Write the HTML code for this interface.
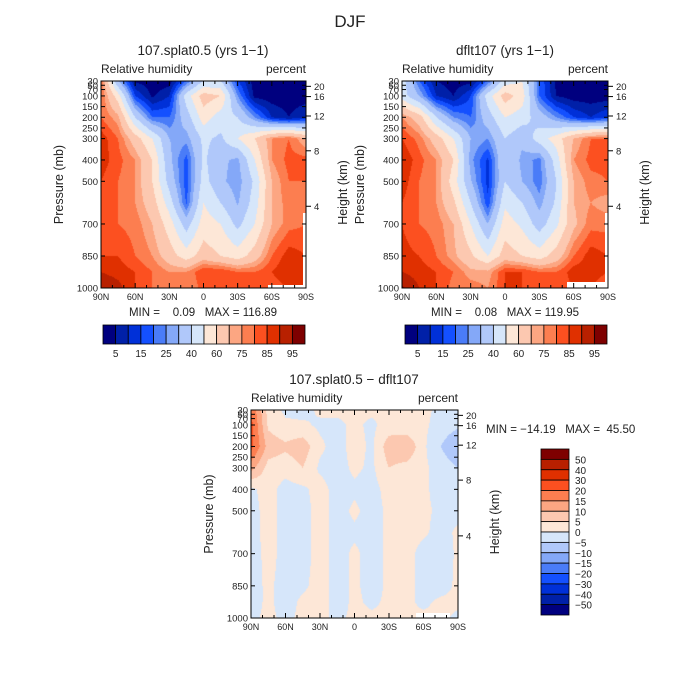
<!DOCTYPE html>
<html><head><meta charset="utf-8"><style>
body{margin:0;background:#fff;}
#wrap{position:relative;width:700px;height:700px;overflow:hidden;font-family:"Liberation Sans",sans-serif;}
canvas{position:absolute;}
svg{position:absolute;left:0;top:0;}
text{font-family:"Liberation Sans",sans-serif;fill:#222;white-space:pre;}
</style></head><body>
<div id="wrap">
<canvas id="c1" width="205" height="207" style="left:101px;top:81px"></canvas>
<canvas id="c2" width="206" height="207" style="left:402px;top:81px"></canvas>
<canvas id="c3" width="207" height="208" style="left:251px;top:410px"></canvas>
<svg id="ov" width="700" height="700"></svg>
</div>
<script>
const lats=[90,75,60,45,30,15,0,-15,-30,-45,-60,-75,-90];
const plevs=[30,100,200,300,400,500,600,700,850,925,1000];
const rh1=[
[80,30,4,2,2,20,40,40,15,2,2,2,2],
[80,55,15,4,10,45,65,60,25,3,2,2,2],
[80,72,40,20,20,35,55,45,40,25,10,5,10],
[88,80,65,50,30,27,42,38,50,60,75,80,70],
[88,82,75,60,32,18,42,32,28,50,75,82,82],
[85,80,75,60,36,17,44,32,26,42,70,80,80],
[85,80,75,65,45,19,50,40,29,45,70,78,78],
[85,80,78,70,55,35,55,50,37,50,70,78,80],
[85,85,80,75,65,55,65,60,55,65,80,88,85],
[90,88,85,80,75,75,85,85,80,80,85,90,85],
[95,92,85,80,80,75,82,85,85,80,82,85,85]];
const rh2=[
[45,20,5,2,3,20,45,50,20,3,2,2,2],
[45,30,10,5,15,45,65,55,20,5,2,2,2],
[75,65,40,25,20,35,50,45,35,25,15,10,15],
[85,78,65,50,30,25,40,32,45,55,70,80,80],
[90,82,75,60,27,14,40,28,23,45,75,82,82],
[88,80,75,55,31,13,40,30,22,40,70,78,80],
[85,80,75,62,40,16,48,40,27,42,70,75,72],
[85,80,78,70,50,30,55,48,35,48,68,78,78],
[87,85,80,72,62,50,65,60,55,65,80,88,85],
[90,88,85,80,72,72,85,85,80,80,88,88,85],
[96,90,85,78,78,75,85,85,85,82,85,85,80]];
const diff=[
[20,3,-1,-2,1,1,1,1,1,1,1,-1,-2],
[22,4,1,1,-1,-1,1,-1,2,1,1,-2,-4],
[22,8,6,8,1,-2,2,-1,8,10,1,-5,-10],
[12,3,2,5,-1,-2,1,-1,5,3,1,-2,-5],
[-1,2,-2,-1,2,-2,-1,-2,2,2,1,-2,-3],
[-2,2,-2,-2,2,-2,1,-2,1,2,1,-1,-2],
[-2,2,-2,-2,2,-2,-1,-2,1,2,1,-2,1],
[-3,2,-2,-2,2,-2,1,-2,1,2,-2,-3,1],
[-2,1,-2,-1,2,-2,1,-2,1,2,-2,-2,1],
[-2,1,-2,1,2,-2,1,-1,1,1,-1,1,1],
[-1,1,-1,1,1,-1,1,1,1,1,1,1,-1]];
const rhLevels=[5,10,15,20,25,30,40,50,60,70,75,80,85,90,95];
const rhLabels=["5","15","25","40","60","75","85","95"];
const diffLevels=[-50,-40,-30,-20,-15,-10,-5,0,5,10,15,20,30,40,50];
const colors=["#00007f","#0020a8","#0030d8","#1450ff","#4a7cf8","#84a8f8","#b0c8fa","#d6e6fa","#fde7d7","#fcc8b0","#fca682","#fc7e50","#fc5020","#e03000","#b82000","#7e0000"];
const pTicks=[30,50,70,100,150,200,250,300,400,500,700,850,1000];
const hTicks=[20,16,12,8,4];
const hTickP=[55,103,194,357,617];
const latTicks=["90N","60N","30N","0","30S","60S","90S"];

const NS="http://www.w3.org/2000/svg";
const ov=document.getElementById('ov');
function el(tag,attrs,txt){const e=document.createElementNS(NS,tag);for(const k in attrs)e.setAttribute(k,attrs[k]);if(txt!==undefined)e.textContent=txt;ov.appendChild(e);return e;}
function colIdx(v,lv){let i=0;while(i<lv.length&&v>=lv[i])i++;return i;}
function interp(grid,lat,p){
  let fx=(90-lat)/15;let i=Math.min(Math.floor(fx),lats.length-2);let tx=fx-i;
  let j=0;while(j<plevs.length-2&&p>plevs[j+1])j++;
  let ty=(p-plevs[j])/(plevs[j+1]-plevs[j]);ty=Math.max(0,Math.min(1,ty));
  const a=grid[j][i],b=grid[j][i+1],c=grid[j+1][i],d=grid[j+1][i+1];
  return (a*(1-tx)+b*tx)*(1-ty)+(c*(1-tx)+d*tx)*ty;
}
function drawField(id,grid,lv){
  const cv=document.getElementById(id),ctx=cv.getContext('2d');
  const W=cv.width,H=cv.height;
  for(let y=0;y<H;y++){const p=30+970*(y+0.5)/H;
    for(let x=0;x<W;x++){const lat=90-180*(x+0.5)/W;
      ctx.fillStyle=colors[colIdx(interp(grid,lat,p),lv)];ctx.fillRect(x,y,1,1);}}
}
drawField('c1',rh1,rhLevels);drawField('c2',rh2,rhLevels);drawField('c3',diff,diffLevels);

function panel(x0,y0,w,h,name){
  const X=lat=>x0+(90-lat)/180*w, Y=p=>y0+(p-30)/970*h;
  const g=el('rect',{x:x0,y:y0,width:w,height:h,fill:'none',stroke:'#000','stroke-width':1});
  
  for(let lat=90;lat>=-90;lat-=10){const major=lat%30===0;const L=major?5:3;
    el('line',{x1:X(lat),x2:X(lat),y1:y0+h,y2:y0+h-L,stroke:'#000'});
    el('line',{x1:X(lat),x2:X(lat),y1:y0,y2:y0+L,stroke:'#000'});}
  latTicks.forEach((t,k)=>{const e=el('text',{x:X(90-30*k),y:y0+h+12,'font-size':9,'text-anchor':'middle'},t);
    });
  pTicks.forEach(p=>{el('line',{x1:x0,x2:x0+4,y1:Y(p),y2:Y(p),stroke:'#000'});
    el('line',{x1:x0+w,x2:x0+w-4,y1:Y(p),y2:Y(p),stroke:'#000'});
    const e=el('text',{x:x0-3,y:Y(p)+3.5,'font-size':9.5,'text-anchor':'end'},String(p));
    });
  hTicks.forEach((hk,k)=>{const yy=Y(hTickP[k]);
    el('line',{x1:x0+w,x2:x0+w+5,y1:yy,y2:yy,stroke:'#000'});
    const e=el('text',{x:x0+w+8,y:yy+3.5,'font-size':9.5},String(hk));
    });
  let e=el('text',{x:x0-38,y:y0+h/2,'font-size':12.5,'text-anchor':'middle',fill:'#444',transform:`rotate(-90 ${x0-38} ${y0+h/2})`},'Pressure (mb)');
  
  e=el('text',{x:x0+w+41,y:y0+h/2+8,'font-size':12.5,'text-anchor':'middle',fill:'#444',transform:`rotate(-90 ${x0+w+41} ${y0+h/2+8})`},'Height (km)');
  
  e=el('text',{x:x0,y:y0-8,'font-size':12},'Relative humidity');
  
  e=el('text',{x:x0+w,y:y0-8,'font-size':12,'text-anchor':'end'},'percent');
  
}
function mask(x,y,w,h){const r=el('rect',{x:x,y:y,width:w,height:h,fill:'#fff'});
  }
mask(268,285,38,3);mask(303,213,3,75);
mask(567,282,41,6);mask(605,213,3,75);
mask(416,613,34,5);

panel(101,81,205,207,'panel1');panel(402,81,206,207,'panel2');panel(251,410,207,208,'panel3');

let t=el('text',{x:350,y:27,'font-size':17,'text-anchor':'middle',fill:'#555'},'DJF');

t=el('text',{x:203,y:55,'font-size':13.5,'text-anchor':'middle'},'107.splat0.5 (yrs 1\u22121)');

t=el('text',{x:505,y:55,'font-size':13.5,'text-anchor':'middle'},'dflt107 (yrs 1\u22121)');

t=el('text',{x:354,y:384,'font-size':13.5,'text-anchor':'middle'},'107.splat0.5 \u2212 dflt107');

t=el('text',{x:203,y:316,'font-size':11.5,'text-anchor':'middle'},'MIN =    0.09   MAX = 116.89');

t=el('text',{x:505,y:316,'font-size':11.5,'text-anchor':'middle'},'MIN =    0.08   MAX = 119.95');

t=el('text',{x:486,y:433,'font-size':11.5},'MIN = \u221214.19   MAX =  45.50');


function hbar(x0,y0,w,h,name){
  const bw=w/colors.length;
  colors.forEach((c,k)=>{const r=el('rect',{x:x0+k*bw,y:y0,width:bw,height:h,fill:c,stroke:'#000','stroke-width':0.8});
    });
  rhLabels.forEach((l,k)=>{const e=el('text',{x:x0+(2*k+1)*bw,y:y0+h+13,'font-size':10,'text-anchor':'middle'},l);
    });
}
hbar(103,325,202,19,'colorbar1');hbar(405,325,202,19,'colorbar2');
(function(){const x0=541,y0=449,w=28,h=166,bh=h/colors.length;
  colors.slice().reverse().forEach((c,k)=>{const r=el('rect',{x:x0,y:y0+k*bh,width:w,height:bh,fill:c,stroke:'#000','stroke-width':0.8});
    });
  diffLevels.slice().reverse().forEach((l,k)=>{const e=el('text',{x:x0+w+6,y:y0+(k+1)*bh+4,'font-size':10},String(l).replace('-','\u2212'));
    });
})();
</script>
</body></html>
